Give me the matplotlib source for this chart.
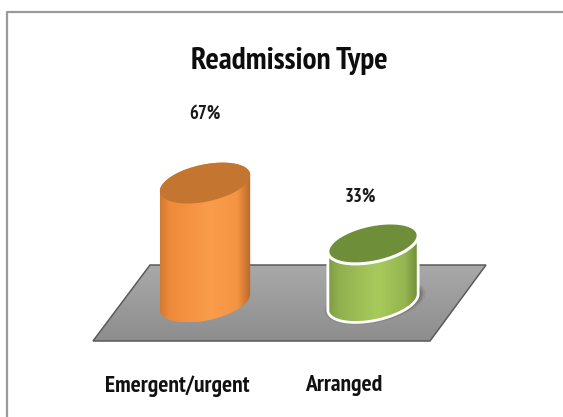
import numpy as np
import matplotlib
matplotlib.use('Agg')
import matplotlib.pyplot as plt
from matplotlib.colors import LinearSegmentedColormap
from matplotlib.patches import PathPatch, Polygon
from matplotlib.path import Path
from matplotlib.transforms import IdentityTransform

categories = ['Emergent/urgent', 'Arranged']
values = [67, 33]
title = 'Readmission Type'

W, H = 563, 417
X0, X_STEP = 205.0, 168.0   # pixel x of the first bar, spacing between bars
Y0, Y_SCALE = 302.0, 1.775  # pixel y (from top) of the baseline, pixels per percent

plt.rcParams['font.family'] = ['PT Sans Narrow', 'Lato', 'DejaVu Sans']

fig = plt.figure(figsize=(W / 100, H / 100), dpi=100, facecolor='white')
ax = fig.add_axes([0, 0, 1, 1])
ax.set_axis_off()
xlim = (-X0 / X_STEP, (W - X0) / X_STEP)
ylim = ((Y0 - H) / Y_SCALE, Y0 / Y_SCALE)


def to_data(px, py):
    # pixel position measured from the top left corner -> data coordinates
    return (px - X0) / X_STEP, (Y0 - py) / Y_SCALE


def to_disp(px, py):
    return px, H - py


def ellipse(cx, cy, a=46.0, b=18.5, angle=12.0, n=181):
    t = np.linspace(0, 2 * np.pi, n)
    r = np.deg2rad(angle)
    ex = a * np.cos(t) * np.cos(r) - b * np.sin(t) * np.sin(r)
    ey = a * np.cos(t) * np.sin(r) + b * np.sin(t) * np.cos(r)
    return cx + ex, cy + ey  # display coordinates, y up


def cylinder_outline(x_top, y_top, x_bot, y_bot):
    # silhouette: upper arc of the top ellipse joined to the lower arc of the bottom one
    tx, ty = ellipse(x_top, y_top)
    bx, by = ellipse(x_bot, y_bot)
    n = len(tx) - 1
    il, ir = np.argmin(tx[:n]), np.argmax(tx[:n])
    upper_idx = (ir + np.arange((il - ir) % n + 1)) % n
    lower_idx = (il + np.arange((ir - il) % n + 1)) % n
    upper = np.c_[tx[upper_idx], ty[upper_idx]]
    lower = np.c_[bx[lower_idx], by[lower_idx]]
    return np.vstack([upper, lower, upper[:1]])


def gradient_fill(verts, colors, horizontal=True, zorder=3):
    # paint a colour ramp and clip it to the outline given in display pixels
    cmap = LinearSegmentedColormap.from_list('ramp', colors)
    ramp = np.linspace(0, 1, 256)
    ramp = ramp[None, :] if horizontal else ramp[:, None]
    x0, y0 = verts.min(axis=0)
    x1, y1 = verts.max(axis=0)
    left, bottom = (x0 - X0) / X_STEP, (y0 - (H - Y0)) / Y_SCALE
    right, top = (x1 - X0) / X_STEP, (y1 - (H - Y0)) / Y_SCALE
    im = ax.imshow(ramp, cmap=cmap, extent=(left, right, bottom, top), aspect='auto',
                   origin='lower', zorder=zorder)
    clip = PathPatch(Path(verts), transform=IdentityTransform(), facecolor='none', edgecolor='none')
    ax.add_patch(clip)
    im.set_clip_path(clip)
    return im


# slide frame, only top and left edges show
ax.plot(*zip(to_data(7, H), to_data(7, 12), to_data(W, 12)), color='#9a9a9a', lw=1.6, zorder=1)

# grey floor under the bars
floor = np.array([to_disp(150, 265), to_disp(486, 265), to_disp(430, 341), to_disp(93, 341)])
gradient_fill(floor, ['#8d8d8d', '#a9a9a9'], horizontal=False, zorder=1.5)
ax.add_patch(Polygon(floor, closed=True, transform=IdentityTransform(), facecolor='none',
                     edgecolor='#5a5a5a', lw=1.1, zorder=1.6))

body_colors = [
    [(0, '#d07a32'), (0.1, '#ee8a3a'), (0.55, '#fa9c4a'), (0.85, '#f59543'), (1, '#b8682a')],
    [(0, '#7d9b42'), (0.12, '#90b04e'), (0.55, '#a8cb5c'), (0.85, '#94b450'), (1, '#6d8a38')],
]
top_colors = ['#c47530', '#6f8e3a']
edge_colors = [None, 'white']
shadows = [0, 1]

for i, v in enumerate(values):
    base_x, base_y = X0 + i * X_STEP, H - Y0
    top_y = base_y + v * Y_SCALE
    outline = cylinder_outline(base_x, top_y, base_x, base_y)

    if shadows[i]:
        # soft dark halo where the green bar meets the floor
        for grow, alpha in [(1.12, 0.10), (1.07, 0.16), (1.03, 0.22)]:
            sx, sy = ellipse(base_x + 2, base_y, a=46 * grow, b=18.5 * grow)
            ax.add_patch(Polygon(np.c_[sx, sy], closed=True, transform=IdentityTransform(),
                                 facecolor='#3c3c3c', edgecolor='none', alpha=alpha, zorder=2))

    gradient_fill(outline, body_colors[i], zorder=3)
    if edge_colors[i]:
        ax.add_patch(PathPatch(Path(outline), transform=IdentityTransform(), facecolor='none',
                               edgecolor=edge_colors[i], lw=2.0, zorder=3.5))
    ex, ey = ellipse(base_x, top_y)
    ax.add_patch(Polygon(np.c_[ex, ey], closed=True, transform=IdentityTransform(),
                         facecolor=top_colors[i], edgecolor=edge_colors[i] or 'none',
                         lw=2.2, zorder=4))

# text
label_offset = [(0, 69), (-12, 47)]
for i, v in enumerate(values):
    ax.annotate(f'{v}%', xy=(i, v), xytext=label_offset[i], textcoords='offset pixels',
                ha='center', va='center', fontsize=13.5, fontweight='bold', color='#1a1a1a', zorder=5)

cat_x = [177, 344]
for name, cx in zip(categories, cat_x):
    x, y = to_data(cx, 386)
    ax.text(x, y, name, ha='center', va='center', fontsize=17, fontweight='bold', color='#111111')

tx, ty = to_data(289, 61)
ax.text(tx, ty, title, ha='center', va='center', fontsize=22.5, fontweight='bold', color='#0d0d0d')

ax.set_xlim(*xlim)
ax.set_ylim(*ylim)
fig.savefig('out.png', dpi=100, facecolor='white')
